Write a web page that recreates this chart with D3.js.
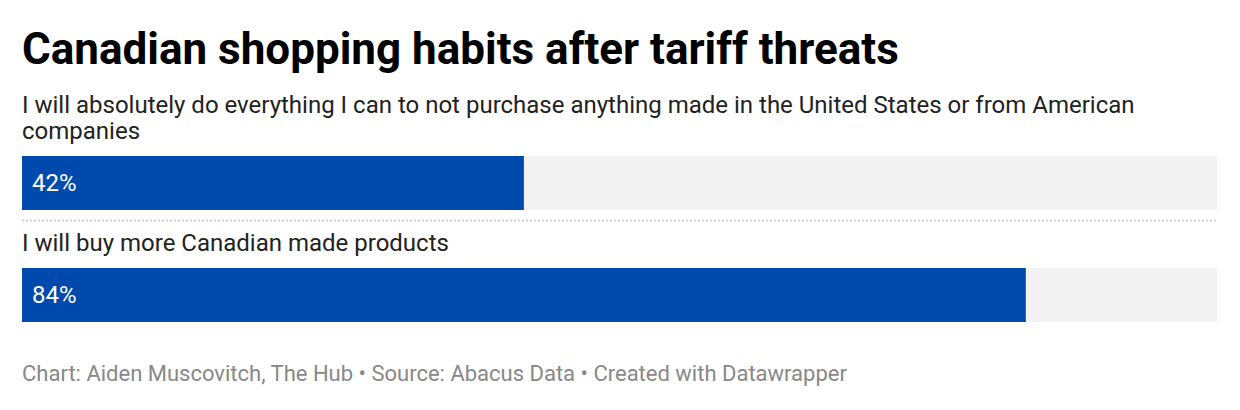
<!DOCTYPE html>
<html>
<head>
<meta charset="utf-8">
<script src="https://cdn.jsdelivr.net/npm/d3@7"></script>
<style>
  body { margin: 0; background: #fff; font-family: Roboto, sans-serif; }
</style>
</head>
<body>
<svg id="chart" width="1240" height="410"></svg>
<script>
var categories = [
  "I will absolutely do everything I can to not purchase anything made in the United States or from American companies",
  "I will buy more Canadian made products"
];
var values = [42, 84];
var labelLines = [
  ["I will absolutely do everything I can to not purchase anything made in the United States or from American", "companies"],
  ["I will buy more Canadian made products"]
];

var svg = d3.select("#chart");
var left = 22, right = 1217;

var x = d3.scaleLinear().domain([0, 100]).range([left, right]);

// title
svg.append("text")
  .attr("x", left).attr("y", 64)
  .style("font-size", "44px")
  .style("font-weight", "bold")
  .style("fill", "#000")
  .text("Canadian shopping habits after tariff threats");

var barTops = [156, 268];
var barH = 54;

categories.forEach(function(c, i){
  var g = svg.append("g");
  var lines = labelLines[i];
  lines.forEach(function(l, j){
    g.append("text")
      .attr("x", left)
      .attr("y", barTops[i] - 17 - (lines.length - 1 - j) * 26)
      .style("font-size", "24px")
      .style("fill", "#222")
      .text(l);
  });
  g.append("rect")
    .attr("x", x(0)).attr("y", barTops[i])
    .attr("width", x(100) - x(0)).attr("height", barH)
    .attr("fill", "#f2f2f2");
  g.append("rect")
    .attr("x", x(0)).attr("y", barTops[i])
    .attr("width", x(values[i]) - x(0)).attr("height", barH)
    .attr("fill", "#004aad");
  g.append("text")
    .attr("x", x(0) + 10).attr("y", barTops[i] + 35)
    .style("font-size", "24px")
    .style("fill", "#fff")
    .text(values[i] + "%");
});

// dotted separator
svg.append("line")
  .attr("x1", x(0)).attr("x2", x(100) + 1)
  .attr("y1", 220.5).attr("y2", 220.5)
  .attr("stroke", "#d0d0d0")
  .attr("stroke-width", 2)
  .attr("stroke-dasharray", "2,2");

svg.append("text")
  .attr("x", left).attr("y", 381)
  .style("font-size", "22px")
  .style("fill", "#888")
  .text("Chart: Aiden Muscovitch, The Hub \u2022 Source: Abacus Data \u2022 Created with Datawrapper");
</script>
</body>
</html>
